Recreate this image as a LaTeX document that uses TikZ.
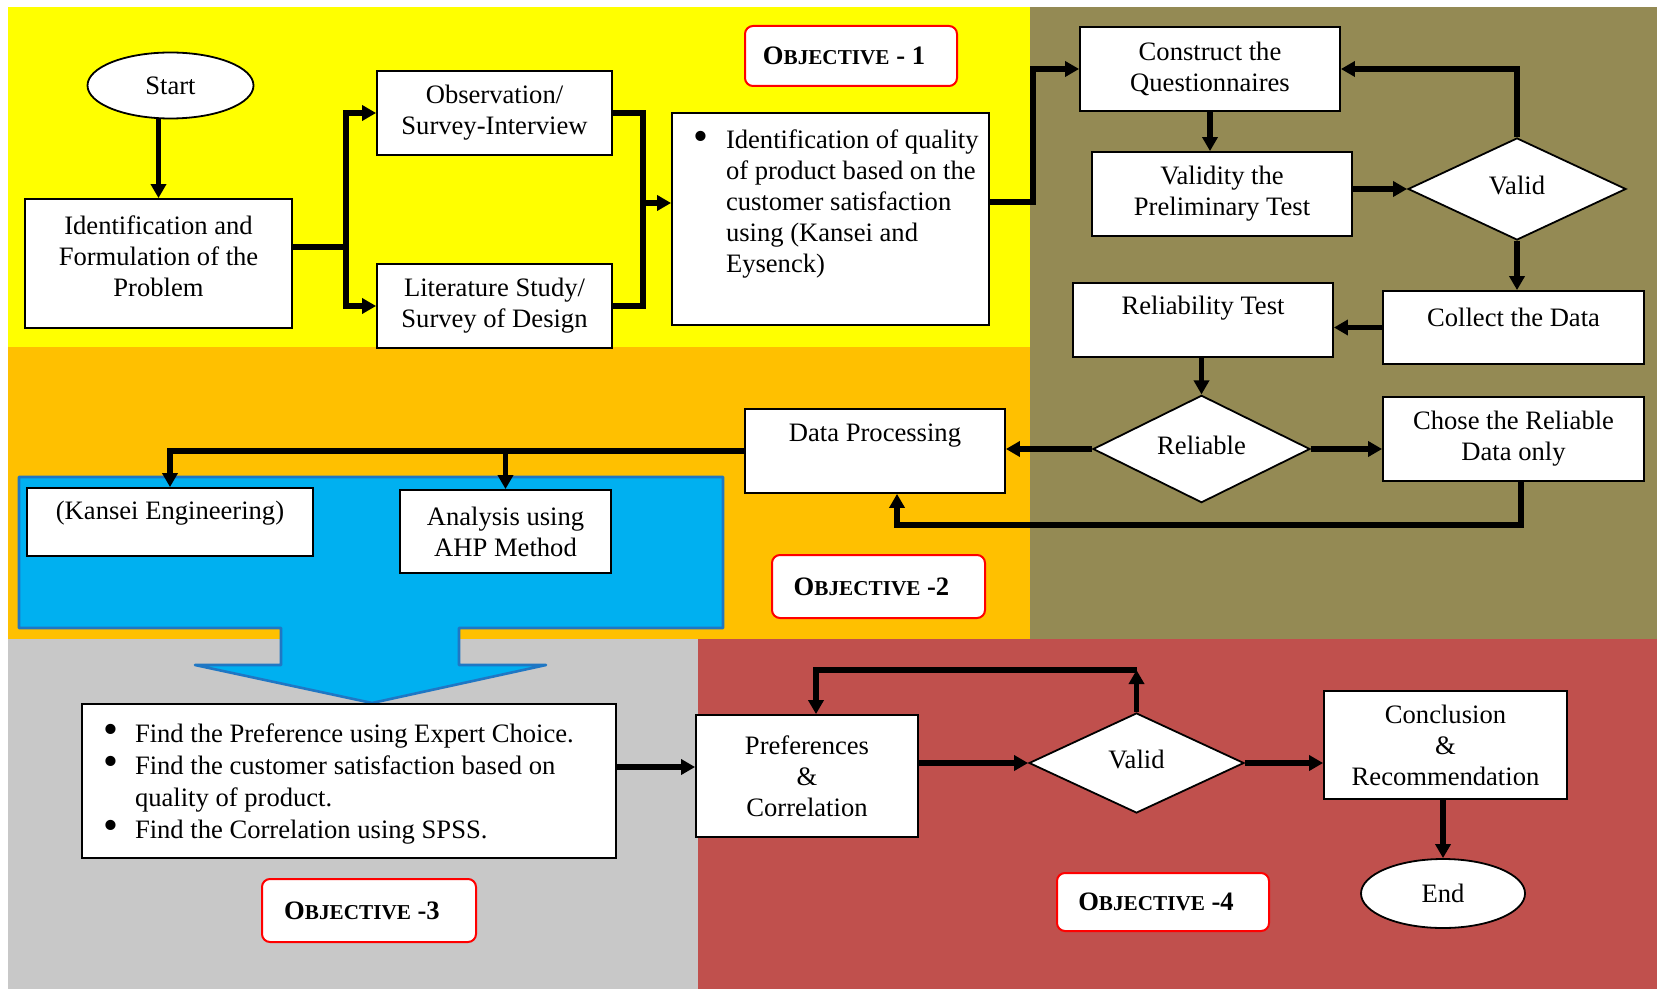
\documentclass[tikz,border=0pt]{standalone}
\usepackage{fontspec}
\setmainfont{Liberation Serif}
\usetikzlibrary{shapes.geometric,arrows.meta,calc}
\definecolor{cyel}{HTML}{FFFF00}
\definecolor{colive}{HTML}{948A54}
\definecolor{corange}{HTML}{FFC000}
\definecolor{cgrey}{HTML}{C8C8C8}
\definecolor{cred}{HTML}{C0504D}
\definecolor{cblue}{HTML}{00B0F0}
\definecolor{cbluedark}{HTML}{1F77C4}
\newcommand\objlabel[1]{\bfseries O{\fontsize{10.6}{12}\selectfont BJECTIVE}#1\hspace*{7pt}}
\newcommand\up[2]{\raisebox{#1}[\height][\depth]{#2}}
\newcommand\bul{\raisebox{-0.6pt}{\scalebox{1.6}{\textbullet}}}
\begin{document}
\begin{tikzpicture}[x=0.5pt,y=-0.5pt,
  every node/.style={font=\fontsize{13.3}{15.5}\selectfont},
  box/.style={draw=black,line width=0.9pt,fill=white,inner sep=0pt},
  dia/.style={diamond,draw=black,line width=0.9pt,fill=white,inner sep=0pt},
  oval/.style={ellipse,draw=black,line width=0.9pt,fill=white,inner sep=0pt},
  objbox/.style={draw=red,line width=1pt,fill=white,rounded corners=4pt,inner sep=0pt},
  conn/.style={line width=2.8pt},
  arr/.style={line width=2.8pt,-{Triangle[length=7pt,width=7.5pt]}}]
\useasboundingbox (0,0) rectangle (1657,989);
\fill[white] (0,0) rectangle (1657,989);
% backgrounds
\fill[cyel] (8,7) rectangle (1030,347);
\fill[corange] (8,347) rectangle (1030,639);
\fill[colive] (1030,7) rectangle (1657,639);
\fill[cgrey] (8,639) rectangle (698,989);
\fill[cred] (698,639) rectangle (1657,989);
% blue block arrow
\draw[fill=cblue,draw=cbluedark,line width=1.3pt,line join=round]
  (19,477) -- (723,477) -- (723,628) -- (459,628) -- (459,665) -- (546,665)
  -- (372,703) -- (195,665) -- (281,665) -- (281,628) -- (19,628) -- cycle;
% nodes
\node[oval,minimum width=83pt,minimum height=33pt] (start) at (170.5,85.5) {Start};
\node[box,minimum width=133.5pt,minimum height=64.5pt] (ident) at (158.5,263.5)
  {\up{3.5pt}{\parbox{130pt}{\centering Identification and\\Formulation of the\\Problem}}};
\node[box,align=center,minimum width=117.5pt,minimum height=42pt] (obs) at (494.5,113) {Observation/\\Survey-Interview};
\node[box,align=center,minimum width=117.5pt,minimum height=42pt] (lit) at (494.5,306) {Literature Study/\\Survey of Design};
\node[box] (iq) at (830.5,219) {\parbox[c][106pt][t]{158.5pt}{\raggedright\vspace*{7.15pt}%
\hspace*{10.5pt}\makebox[16.5pt][l]{\strut\bul}\mbox{Identification of quality}\\
\hspace*{27pt}\mbox{of product based on the}\\
\hspace*{27pt}\mbox{customer satisfaction}\\
\hspace*{27pt}\mbox{using (Kansei and}\\
\hspace*{27pt}\mbox{Eysenck)}}};
\node[objbox,minimum width=106pt,minimum height=30pt] (obj1) at (851,56) {\objlabel{ - 1}};
\node[box,align=center,minimum width=130pt,minimum height=42pt] (cons) at (1210,69) {Construct the\\Questionnaires};
\node[box,align=center,minimum width=130pt,minimum height=42pt] (vald) at (1222,194) {Validity the\\Preliminary Test};
\node[dia,minimum width=109pt,minimum height=51pt] (valid1) at (1517,189) {\up{2pt}{Valid}};
\node[box,minimum width=130.5pt,minimum height=36.5pt] (collect) at (1513.5,327.5) {\up{5.25pt}{Collect the Data}};
\node[box,minimum width=130pt,minimum height=37pt] (relt) at (1203,320) {\up{5.7pt}{Reliability Test}};
\node[dia,minimum width=108.5pt,minimum height=51pt] (reliable) at (1201.5,449) {\up{2pt}{Reliable}};
\node[box,align=center,minimum width=130.5pt,minimum height=42pt] (chose) at (1513.5,439) {Chose the Reliable\\Data only};
\node[box,minimum width=130pt,minimum height=42pt] (dp) at (875,451) {\up{7.8pt}{Data Processing}};
\node[box,minimum width=143pt,minimum height=34pt] (kansei) at (170,522) {\up{4.2pt}{(Kansei Engineering)}};
\node[box,align=center,minimum width=105.5pt,minimum height=41.5pt] (ana) at (505.5,531.5) {Analysis using\\AHP Method};
\node[objbox,minimum width=106.5pt,minimum height=31.5pt] (obj2) at (878.5,586.5) {\objlabel{ -2}};
\node[box] (find) at (349,781) {\parbox[c][77pt][t]{267pt}{\fontsize{13.3}{16}\selectfont\raggedright\vspace*{7.8pt}%
\hspace*{10.5pt}\makebox[16pt][l]{\strut\bul}\mbox{Find the Preference using Expert Choice.}\\
\hspace*{10.5pt}\makebox[16pt][l]{\bul}\mbox{Find the customer satisfaction based on}\\
\hspace*{26.5pt}\mbox{quality of product.}\\
\hspace*{10.5pt}\makebox[16pt][l]{\bul}\mbox{Find the Correlation using SPSS.}}};
\node[objbox,minimum width=107pt,minimum height=31.5pt] (obj3) at (369,910.5) {\objlabel{ -3}};
\node[box,align=center,minimum width=111pt,minimum height=61pt] (pref) at (807,776) {Preferences\\\&\\Correlation};
\node[dia,minimum width=107.5pt,minimum height=50pt] (valid2) at (1136.5,763) {\up{2pt}{Valid}};
\node[box,align=center,minimum width=121.5pt,minimum height=54pt] (concl) at (1445.5,745) {Conclusion\\\&\\Recommendation};
\node[oval,minimum width=82pt,minimum height=34.5pt] (endn) at (1443,893.5) {End};
\node[objbox,minimum width=106pt,minimum height=29pt] (obj4) at (1163,902) {\objlabel{ -4}};
% connectors
\draw[arr] (start.south -| ident.north) -- (ident.north);
\coordinate (b1) at (346,247);
\draw[conn] (ident.east |- b1) -- (b1);
\draw[arr] (b1) |- (obs.west);
\draw[arr] (b1) |- (lit.west);
\coordinate (b2) at (643,203);
\draw[conn] (obs.east) -| (b2);
\draw[conn] (lit.east) -| (b2);
\draw[arr] (b2) -- (b2 -| iq.west);
\coordinate (b3) at (1033,202);
\draw[arr] (iq.east |- b3) -- (b3) |- (cons.west);
\draw[arr] (cons.south) -- (cons.south |- vald.north);
\draw[arr] (vald.east |- valid1.west) -- (valid1.west);
\draw[arr] (valid1.north) |- (cons.east);
\draw[arr] (valid1.south) -- (valid1.south |- collect.north);
\draw[arr] (collect.west) -- (collect.west -| relt.east);
\draw[arr] (relt.south -| reliable.north) -- (reliable.north);
\draw[arr] (reliable.east) -- (reliable.east -| chose.west);
\draw[arr] (reliable.west) -- (reliable.west -| dp.east);
\coordinate (b4) at (1521,525);
\coordinate (b5) at (897,525);
\draw[arr] (chose.south -| b4) -- (b4) -- (b5) -- (b5 |- dp.south);
\draw[arr] (dp.west) -| (kansei.north);
\draw[arr] (ana.north |- dp.west) -- (ana.north);
\coordinate (b7) at (620,767);
\draw[arr] (find.east |- b7) -- (b7 -| pref.west);
\draw[arr] (pref.east |- valid2.west) -- (valid2.west);
\coordinate (b8) at (816,670);
\draw[arr] (valid2.north) -- (valid2.north |- b8);
\draw[arr] (valid2.north |- b8) -- (b8) -- (b8 |- pref.north);
\draw[arr] (valid2.east) -- (valid2.east -| concl.west);
\draw[arr] (concl.south -| endn.north) -- (endn.north);
\end{tikzpicture}
\end{document}
